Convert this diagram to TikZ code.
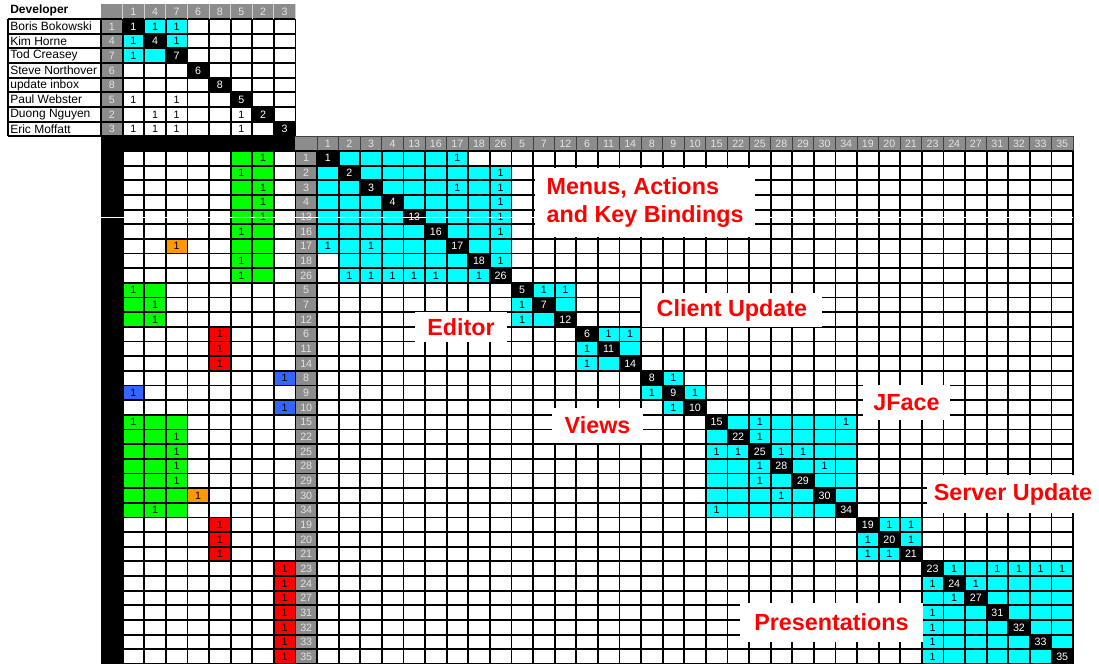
\documentclass[tikz,border=0pt]{standalone}
\usepackage{fontspec}
\setmainfont{Liberation Sans}
\usepackage{xcolor}
\usepackage{tikz}
\definecolor{dsmcyan}{RGB}{0,255,255}
\definecolor{dsmgreen}{RGB}{0,255,0}
\definecolor{dsmorange}{RGB}{255,153,0}
\definecolor{dsmred}{RGB}{255,0,0}
\definecolor{dsmblue}{RGB}{51,102,255}
\definecolor{hdrgray}{RGB}{140,140,140}
\definecolor{hdrtext}{RGB}{228,228,228}
\tikzset{
  gridline/.style={line width=1.35pt, color=black},
  hdrsep/.style={line width=0.7pt, color=black!75},
  num/.style={font=\fontsize{8}{9}\selectfont, inner sep=0pt},
  hdr/.style={num, text=hdrtext},
  diag/.style={num, text=white},
  devname/.style={anchor=west, font=\fontsize{9}{10}\selectfont, inner sep=0pt},
  grplabel/.style={fill=white, text=dsmred, align=left, inner sep=0pt,
    font=\fontsize{17.5}{20.5}\selectfont\bfseries}
}
\def\dsmorder{1,2,3,4,13,16,17,18,26,5,7,12,6,11,14,8,9,10,15,22,25,28,29,30,34,19,20,21,23,24,27,31,32,33,35}

\begin{document}
\begin{tikzpicture}[x=16.2pt, y=-10.993pt]
    \useasboundingbox (-4.676,-10.302) rectangle (46.204,35);
    \fill[white] (-4.676,-10.302) rectangle (46.204,35);
    % Gray headers
    \fill[hdrgray] (0,-10) rectangle (9,-9);
    \fill[hdrgray] (0,-9) rectangle (1,-1);
    \fill[hdrgray] (9,-1) rectangle (45,0);
    \fill[hdrgray] (9,0) rectangle (10,35);
    % Cyan blocks
    \foreach \r/\c in {1/2,1/3,2/1,2/3,3/1,3/2}
      \fill[dsmcyan] (\c,-10+\r) rectangle ++(1,1);
    \foreach \s/\n in {1/9,10/3,13/3,16/3,19/7,26/3,29/7}
      \fill[dsmcyan] (9+\s,\s-1) rectangle ++(\n,\n);
    \foreach \r/\c in {1/8,1/9,8/1,9/1,16/18,18/16}
      \fill[white] (9+\c,\r-1) rectangle ++(1,1);
    % Developer columns
    \fill[dsmgreen] (6,0) rectangle (8,9);
    \fill[dsmgreen] (1,9) rectangle (3,12);
    \fill[dsmgreen] (1,18) rectangle (4,25);
    \fill[dsmorange] (3,6) rectangle ++(1,1);
    \fill[dsmorange] (4,23) rectangle ++(1,1);
    \fill[dsmred] (5,12) rectangle (6,15);
    \fill[dsmred] (5,25) rectangle (6,28);
    \fill[dsmred] (8,28) rectangle (9,35);
    \fill[dsmblue] (8,15) rectangle ++(1,1);
    \fill[dsmblue] (1,16) rectangle ++(1,1);
    \fill[dsmblue] (8,17) rectangle ++(1,1);
    % Grid
    \foreach \v in {-9,...,-1}
      \draw[gridline] (-4.31,\v) -- (9,\v);
    \draw[gridline] (-4.31,-9) -- (-4.31,-1);
    \foreach \u in {0,...,9}
      \draw[gridline] (\u,-9) -- (\u,-1);
    \foreach \u in {1,...,9}
      \draw[hdrsep, color=gray!35] (\u,-10) -- (\u,-9);
    \foreach \v in {0,...,35}
      \draw[gridline] (1,\v) -- (45,\v);
    \foreach \u in {1,...,45}
      \draw[gridline] (\u,0) -- (\u,35);
    \foreach \u in {10,...,45}
      \draw[hdrsep] (\u,-1) -- (\u,0);
    \draw[hdrsep] (9,-1) -- (45,-1);
    % Black bars
    \fill[black] (0,-1) rectangle (9,0);
    \fill[black] (0,0) rectangle (1,35);
    % Developer table
    \node[devname, font=\fontsize{9}{10}\selectfont\bfseries] (nm-0) at (-4.21,-9.5) {\underline{Developer}};
    \foreach \nm [count=\i] in {Boris Bokowski,Kim Horne,Tod Creasey,Steve Northover,update inbox,Paul Webster,Duong Nguyen,Eric Moffatt}
      \node[devname] (nm-\i) at (-4.21,-9.5+\i) {\nm};
    \foreach \n [count=\i] in {1,4,7,6,8,5,2,3} {
      \node[hdr] (th-\i) at (\i+0.5,-9.5) {\n};
      \node[hdr] (ti-\i) at (0.5,-9.5+\i) {\n};
      \fill[black] (\i,-10+\i) rectangle ++(1,1);
      \node[diag] (td-\i) at (\i+0.5,-9.5+\i) {\n};
    }
    \foreach \r/\c in {1/2,1/3,2/1,2/3,3/1,6/1,6/3,7/2,7/3,7/6,8/1,8/2,8/3,8/6}
      \node[num] (tc-\r-\c) at (\c+0.5,-9.5+\r) {1};
    % Module matrix
    \foreach \n [count=\i] in \dsmorder {
      \node[hdr] (hd-\i) at (9.5+\i,-0.5) {\n};
      \node[hdr] (ri-\i) at (9.5,\i-0.5) {\n};
      \fill[black] (9+\i,\i-1) rectangle ++(1,1);
      \node[diag] (md-\i) at (9.5+\i,\i-0.5) {\n};
    }
    \foreach \r/\c in {1/7,2/9,3/7,3/9,4/9,5/9,6/9,7/1,7/3,8/9,9/2,9/3,9/4,9/5,9/6,9/8,
        10/11,10/12,11/10,12/10,13/14,13/15,14/13,15/13,16/17,17/16,17/18,18/17,
        19/21,19/25,20/21,21/19,21/20,21/22,21/23,22/21,22/24,23/21,24/22,25/19,
        26/27,26/28,27/26,27/28,28/26,28/27,
        29/30,29/32,29/33,29/34,29/35,30/29,30/31,31/30,32/29,33/29,34/29,35/29}
      \node[num] (mc-\r-\c) at (9.5+\c,\r-0.5) {1};
    \foreach \r/\d in {1/7,2/6,3/7,4/7,5/7,6/6,7/3,8/6,9/6,10/1,11/2,12/2,13/5,14/5,15/5,
        16/8,17/1,18/8,19/1,20/3,21/3,22/3,23/3,24/4,25/2,26/5,27/5,28/5,
        29/8,30/8,31/8,32/8,33/8,34/8,35/8}
      \node[num] (dc-\r) at (\d+0.5,\r-0.5) {1};
    \draw[white, line width=0.6pt] (0,4.55) -- (45,4.55);
    % Group labels
    \node[grplabel, minimum width=165pt, minimum height=51.75pt] (lbl-menus) at (25.19,3.51) {Menus, Actions\\and Key Bindings};
    \node[grplabel, minimum width=69pt, minimum height=22.5pt] (lbl-editor) at (16.67,12.01) {Editor};
    \node[grplabel, minimum width=135pt, minimum height=25.5pt] (lbl-client) at (29.21,10.85) {Client Update};
    \node[grplabel, minimum width=65pt, minimum height=26pt] (lbl-jface) at (37.29,17.16) {JFace};
    \node[grplabel, minimum width=68pt, minimum height=26pt] (lbl-views) at (22.99,18.73) {Views};
    \node[grplabel, minimum width=129pt, minimum height=28.5pt] (lbl-server) at (42.22,23.40) {Server Update};
    \node[grplabel, minimum width=137pt, minimum height=29pt] (lbl-pres) at (33.82,32.17) {Presentations};
  \end{tikzpicture}
\end{document}
